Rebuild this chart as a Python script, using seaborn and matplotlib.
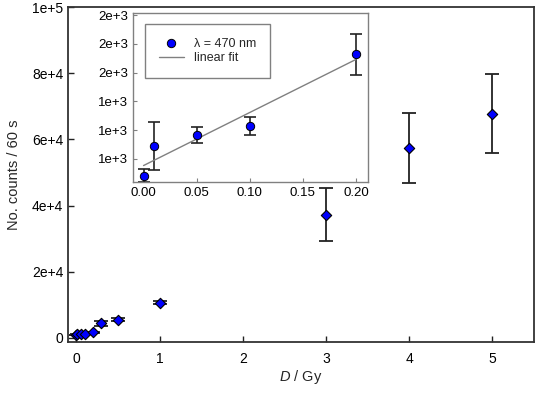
import numpy as np
import pandas as pd
import seaborn as sns
import matplotlib.pyplot as plt
from matplotlib.ticker import FuncFormatter

# dose (Gy) and counts per 60 s
dose = [0, 0.01, 0.05, 0.1, 0.2, 0.3, 0.5, 1, 3, 4, 5]
counts = [884, 1092, 1167, 1229, 1727, 4450, 5550, 10700, 37300, 57300, 67800]
counts_err = [45, 168, 53, 62, 142, 700, 500, 500, 7900, 10600, 12000]

# low dose range shown in the inset
inset_n = 5

sns.set_style("ticks")
plt.rcParams["font.family"] = ["Liberation Sans", "DejaVu Sans"]
plt.rcParams["mathtext.fontset"] = "custom"
plt.rcParams["mathtext.it"] = "Liberation Sans:italic"
plt.rcParams["mathtext.rm"] = "Liberation Sans"


def sci(v, _):
    if v == 0:
        return "0"
    m, e = f"{v:.0e}".split("e")
    return f"{m}e+{int(e)}"


df = pd.DataFrame({"dose": dose, "counts": counts, "err": counts_err})

fig = plt.figure(figsize=(5.36, 3.93), dpi=100)
ax = fig.add_axes([0.127, 0.130, 0.869, 0.852])

ax.errorbar(df["dose"], df["counts"], yerr=df["err"], fmt="none",
            ecolor="#222222", elinewidth=1.3, capsize=5, capthick=1.3, zorder=2)
sns.scatterplot(data=df, x="dose", y="counts", ax=ax, marker="D", s=28,
                color="#0000ff", edgecolor="black", linewidth=0.8, zorder=3)

ax.set_xlim(-0.1, 5.5)
ax.set_ylim(-1200, 100000)
ax.set_xticks([0, 1, 2, 3, 4, 5])
ax.set_yticks(np.arange(0, 100001, 20000))
ax.yaxis.set_major_formatter(FuncFormatter(sci))
ax.tick_params(direction="in", length=4, width=1, labelsize=10, colors="#222222",
               labelcolor="black")
ax.tick_params(axis="x", pad=7)
for s in ax.spines.values():
    s.set_color("#333333")
    s.set_linewidth(1.3)
ax.set_xlabel("$D$ / Gy", fontsize=10.5, labelpad=2)
ax.set_ylabel("No. counts / 60 s", fontsize=10.5, labelpad=8)

# inset with linear fit
low = df.iloc[:inset_n]
slope, icpt = np.polyfit(low["dose"], low["counts"], 1)
fit = pd.DataFrame({"dose": [low["dose"].min(), low["dose"].max()]})
fit["counts"] = icpt + slope * fit["dose"]

ins = fig.add_axes([0.248, 0.537, 0.438, 0.430])
ins.errorbar(low["dose"], low["counts"], yerr=low["err"], fmt="none",
             ecolor="#222222", elinewidth=1.2, capsize=4, capthick=1.2, zorder=2)
sns.lineplot(data=fit, x="dose", y="counts", ax=ins, color="#808080",
             linewidth=1, label="linear fit", zorder=2)
sns.scatterplot(data=low, x="dose", y="counts", ax=ins, marker="o", s=36,
                color="#0000ff", edgecolor="black", linewidth=0.7,
                label="λ = 470 nm", zorder=3)

ins.set_xlim(-0.01, 0.211)
ins.set_ylim(840, 2015)
ins.set_xticks([0, 0.05, 0.1, 0.15, 0.2])
ins.set_yticks(np.arange(1000, 2001, 200))
ins.xaxis.set_major_formatter(FuncFormatter(lambda v, _: f"{v:.2f}"))
ins.yaxis.set_major_formatter(FuncFormatter(sci))
ins.tick_params(direction="in", length=3, width=0.8, labelsize=9.5, colors="#808080",
                labelcolor="black")
for s in ins.spines.values():
    s.set_color("#808080")
    s.set_linewidth(1)
ins.set_xlabel("")
ins.set_ylabel("")

h, l = ins.get_legend_handles_labels()
leg = ins.legend(h[::-1], l[::-1], loc="upper left", bbox_to_anchor=(0.051, 0.935),
                 fontsize=9, frameon=True, fancybox=False, framealpha=1,
                 edgecolor="#808080", handlelength=2.0, handletextpad=0.8,
                 borderpad=1.1, labelspacing=0.2, borderaxespad=0)
leg.get_frame().set_linewidth(1)

fig.savefig("out.png", dpi=100)
